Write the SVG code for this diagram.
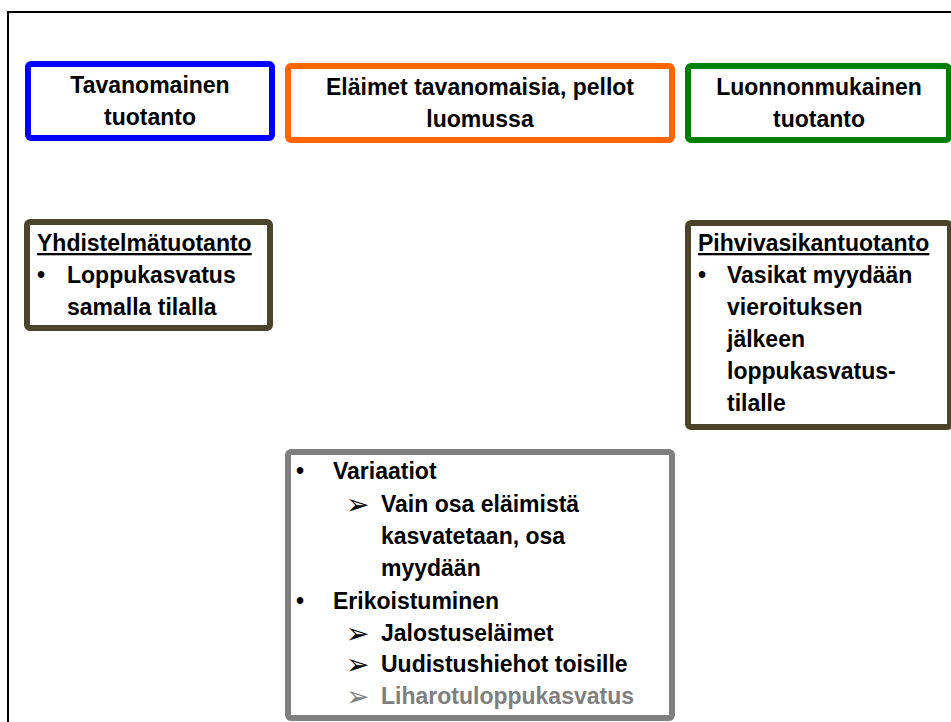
<svg xmlns="http://www.w3.org/2000/svg" width="951" height="722" viewBox="0 0 951 722">
<style>
text{font-family:"Liberation Sans",Arial,sans-serif;font-weight:bold;font-size:23px;fill:#000}
.c{text-anchor:middle}
.box{fill:#fff;stroke-width:6}
.arr{font-family:"DejaVu Sans",sans-serif;font-weight:normal;font-size:28px}
.g{fill:#7f7f7f}
</style>
<rect x="8" y="12" width="960" height="730" fill="#fff" stroke="#000" stroke-width="2"/>
<g id="tavanomainen">
<rect class="box" x="28" y="64" width="244" height="74" rx="3" stroke="#0000ff"/>
<text class="c" x="150" y="93">Tavanomainen</text>
<text class="c" x="150" y="125">tuotanto</text>
</g>
<g id="elaimet">
<rect class="box" x="288" y="66" width="384" height="74" rx="3" stroke="#ff6600"/>
<text class="c" x="480" y="95">Eläimet tavanomaisia, pellot</text>
<text class="c" x="480" y="127">luomussa</text>
</g>
<g id="luonnonmukainen">
<rect class="box" x="688" y="66" width="261" height="74" rx="3" stroke="#008000"/>
<text class="c" x="819" y="95">Luonnonmukainen</text>
<text class="c" x="819" y="127">tuotanto</text>
</g>
<g id="yhdistelma">
<rect class="box" x="27" y="222" width="243" height="106" rx="3" stroke="#4a452a"/>
<text x="37" y="251" text-decoration="underline">Yhdistelmätuotanto</text>
<text x="37" y="283">•</text>
<text x="67" y="283">Loppukasvatus</text>
<text x="67" y="315">samalla tilalla</text>
</g>
<g id="pihvivasikka">
<rect class="box" x="688" y="223" width="262" height="204" rx="3" stroke="#4a452a"/>
<text x="698" y="251" text-decoration="underline">Pihvivasikantuotanto</text>
<text x="698" y="283">•</text>
<text x="727" y="283">Vasikat myydään</text>
<text x="727" y="315">vieroituksen</text>
<text x="727" y="347">jälkeen</text>
<text x="727" y="379">loppukasvatus-</text>
<text x="727" y="411">tilalle</text>
</g>
<g id="variaatiot">
<rect class="box" x="288" y="452" width="384" height="266" rx="3" stroke="#7f7f7f"/>
<text x="296" y="479">•</text>
<text x="333" y="479">Variaatiot</text>
<text class="arr" x="346" y="514">➢</text>
<text x="381" y="512">Vain osa eläimistä</text>
<text x="381" y="544">kasvatetaan, osa</text>
<text x="381" y="576">myydään</text>
<text x="296" y="609">•</text>
<text x="333" y="609">Erikoistuminen</text>
<text class="arr" x="346" y="643">➢</text>
<text x="381" y="641">Jalostuseläimet</text>
<text class="arr" x="346" y="674">➢</text>
<text x="381" y="672">Uudistushiehot toisille</text>
<text class="arr g" x="346" y="706">➢</text>
<text class="g" x="381" y="704">Liharotuloppukasvatus</text>
</g>
<g id="connectors"></g>
</svg>
